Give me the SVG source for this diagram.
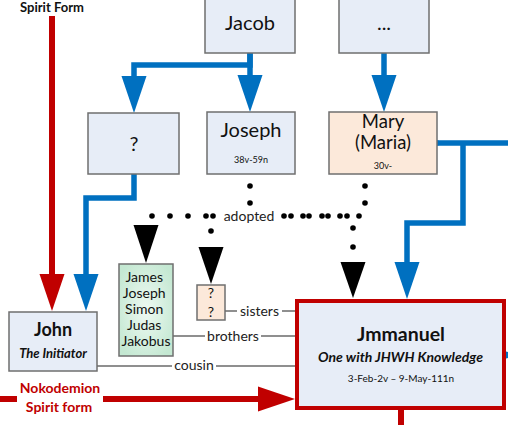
<svg xmlns="http://www.w3.org/2000/svg" width="508" height="425" viewBox="0 0 508 425">
<style>
.node{fill:#E7EDF7;stroke:#6f6f6f;stroke-width:1.5}
.peach{fill:#FCE9DA;stroke:#6f6f6f;stroke-width:1.5}
.t{font-family:Lato,"Liberation Sans",sans-serif;fill:#111;text-anchor:middle}
.blue{fill:none;stroke:#0070C0;stroke-width:5.5}
.red{fill:none;stroke:#C00000;stroke-width:6}
.rel{fill:none;stroke:#6b6b6b;stroke-width:1.5}
.dot{fill:#000}
.ah{fill:#000}
.lbl{font-family:Lato,"Liberation Sans",sans-serif;font-size:14px;fill:#222;text-anchor:middle}
.redt{font-family:Lato,"Liberation Sans",sans-serif;font-size:14px;font-weight:bold;fill:#C00000;text-anchor:middle}
</style>
<defs>
<marker id="ab" markerUnits="userSpaceOnUse" viewBox="0 0 37 25" refX="0" refY="12.5" markerWidth="37" markerHeight="25" orient="auto" overflow="visible"><path d="M0,0 L37,12.5 L0,25 z" fill="#0070C0"/></marker>
<marker id="ar" markerUnits="userSpaceOnUse" viewBox="0 0 37 25" refX="0" refY="12.5" markerWidth="37" markerHeight="25" orient="auto" overflow="visible"><path d="M0,0 L37,12.5 L0,25 z" fill="#C00000"/></marker>
<radialGradient id="gg" cx="0.5" cy="0.5" r="0.6">
<stop offset="0" stop-color="#EEF9F2"/>
<stop offset="1" stop-color="#C4E8D2"/>
</radialGradient>
</defs>

<text x="52" y="12" class="t" style="font-size:13px;font-weight:bold">Spirit Form</text>

<g id="connectors">
<path class="blue" d="M250,53 V65 H134 V76" marker-end="url(#ab)"/>
<path class="blue" d="M250,53 V75" marker-end="url(#ab)"/>
<path class="blue" d="M384,53 V75" marker-end="url(#ab)"/>
<path class="blue" d="M437,143 H508 M463,143 V223 H407 V262" marker-end="url(#ab)"/>
<circle cx="437" cy="143" r="2.8" fill="#0070C0"/>
<path class="blue" d="M134,174 V198 H86 V274" marker-end="url(#ab)"/>
<path class="red" d="M52,16 V274" marker-end="url(#ar)"/>
<path class="red" d="M0,399 H17"/>
<path class="red" d="M103,399 H258" marker-end="url(#ar)"/>
<path class="red" d="M401,410 V425"/>
<circle cx="506" cy="355" r="3.5" fill="#0070C0"/>

<g id="adopted-dots">
<circle class="dot" cx="250" cy="186" r="2.8"/><circle class="dot" cx="250" cy="203" r="2.8"/>
<circle class="dot" cx="365" cy="186" r="2.8"/><circle class="dot" cx="365" cy="203" r="2.8"/>
<circle class="dot" cx="152" cy="216" r="2.8"/><circle class="dot" cx="170" cy="216" r="2.8"/>
<circle class="dot" cx="188" cy="216" r="2.8"/><circle class="dot" cx="206" cy="216" r="2.8"/>
<circle class="dot" cx="213" cy="216" r="2.8"/>
<circle class="dot" cx="284" cy="216" r="2.8"/><circle class="dot" cx="291" cy="216" r="2.8"/>
<circle class="dot" cx="303" cy="216" r="2.8"/><circle class="dot" cx="309" cy="216" r="2.8"/>
<circle class="dot" cx="322" cy="216" r="2.8"/><circle class="dot" cx="328" cy="216" r="2.8"/>
<circle class="dot" cx="340" cy="216" r="2.8"/><circle class="dot" cx="347" cy="216" r="2.8"/>
<circle class="dot" cx="359" cy="216" r="2.8"/>
<circle class="dot" cx="211" cy="231" r="2.8"/>
<circle class="dot" cx="353" cy="228" r="2.8"/><circle class="dot" cx="353" cy="247" r="2.8"/>
<text x="249" y="221" class="lbl">adopted</text>
<polygon class="ah" points="133.5,225 158.5,225 146,263"/>
<polygon class="ah" points="198.5,247 223.5,247 211,284"/>
<polygon class="ah" points="340.5,262 365.5,262 353,298"/>
</g>

<path class="rel" d="M225,311 H237 M282,311 H295"/>
<text x="259.5" y="316" class="lbl">sisters</text>
<path class="rel" d="M173,336 H205 M261,336 H295"/>
<text x="233" y="341" class="lbl">brothers</text>
<path class="rel" d="M97,366 H172 M216,366 H295"/>
<text x="194" y="370" class="lbl">cousin</text>
</g>

<g id="jacob">
<rect class="node" x="205" y="-5" width="90" height="58"/>
<text x="250" y="30" class="t" style="font-size:20px">Jacob</text>
</g>
<g id="ellipsis">
<rect class="node" x="339" y="-5" width="90" height="58"/>
<text x="384" y="30" class="t" style="font-size:20px">...</text>
</g>
<g id="unknown">
<rect class="node" x="88" y="113" width="91" height="61"/>
<text x="134" y="151" class="t" style="font-size:20px">?</text>
</g>
<g id="joseph">
<rect class="node" x="207" y="112" width="88" height="62"/>
<text x="251" y="137" class="t" style="font-size:20px">Joseph</text>
<text x="251" y="163" class="t" style="font-size:9px">38v-59n</text>
</g>
<g id="mary">
<rect class="peach" x="329" y="112" width="108" height="62"/>
<text x="383" y="128" class="t" style="font-size:18.5px">Mary</text>
<text x="383" y="149" class="t" style="font-size:18.5px">(Maria)</text>
<text x="383" y="169" class="t" style="font-size:9px">30v-</text>
</g>
<g id="siblings">
<rect x="119" y="264" width="54" height="92" fill="url(#gg)" stroke="#6f6f6f" stroke-width="1.5"/>
<text class="t" style="font-size:14px">
<tspan x="146" y="282">James</tspan>
<tspan x="146" y="298">Joseph</tspan>
<tspan x="146" y="314">Simon</tspan>
<tspan x="146" y="330">Judas</tspan>
<tspan x="146" y="346">Jakobus</tspan>
</text>
</g>
<g id="sisters">
<rect class="peach" x="197" y="285" width="28" height="35"/>
<text x="211" y="298" class="t" style="font-size:14px">?</text>
<text x="211" y="317" class="t" style="font-size:14px">?</text>
</g>
<g id="john">
<rect class="node" x="9" y="312" width="88" height="59"/>
<text x="53" y="336" class="t" style="font-size:18px;font-weight:bold">John</text>
<text x="53" y="358" class="t" style="font-size:13px;font-weight:bold;font-style:italic">The Initiator</text>
</g>
<g id="nokodemion">
<text x="60" y="393" class="redt">Nokodemion</text>
<text x="59" y="412" class="redt">Spirit form</text>
</g>
<g id="jmmanuel">
<rect x="297" y="301" width="207" height="107" fill="#E7EDF7" stroke="#C00000" stroke-width="4"/>
<text x="401" y="341" class="t" style="font-size:19.5px;font-weight:bold">Jmmanuel</text>
<text x="400.5" y="362" class="t" style="font-size:14px;font-weight:bold;font-style:italic">One with JHWH Knowledge</text>
<text x="401" y="382" class="t" style="font-size:10px">3-Feb-2v – 9-May-111n</text>
</g>
</svg>
